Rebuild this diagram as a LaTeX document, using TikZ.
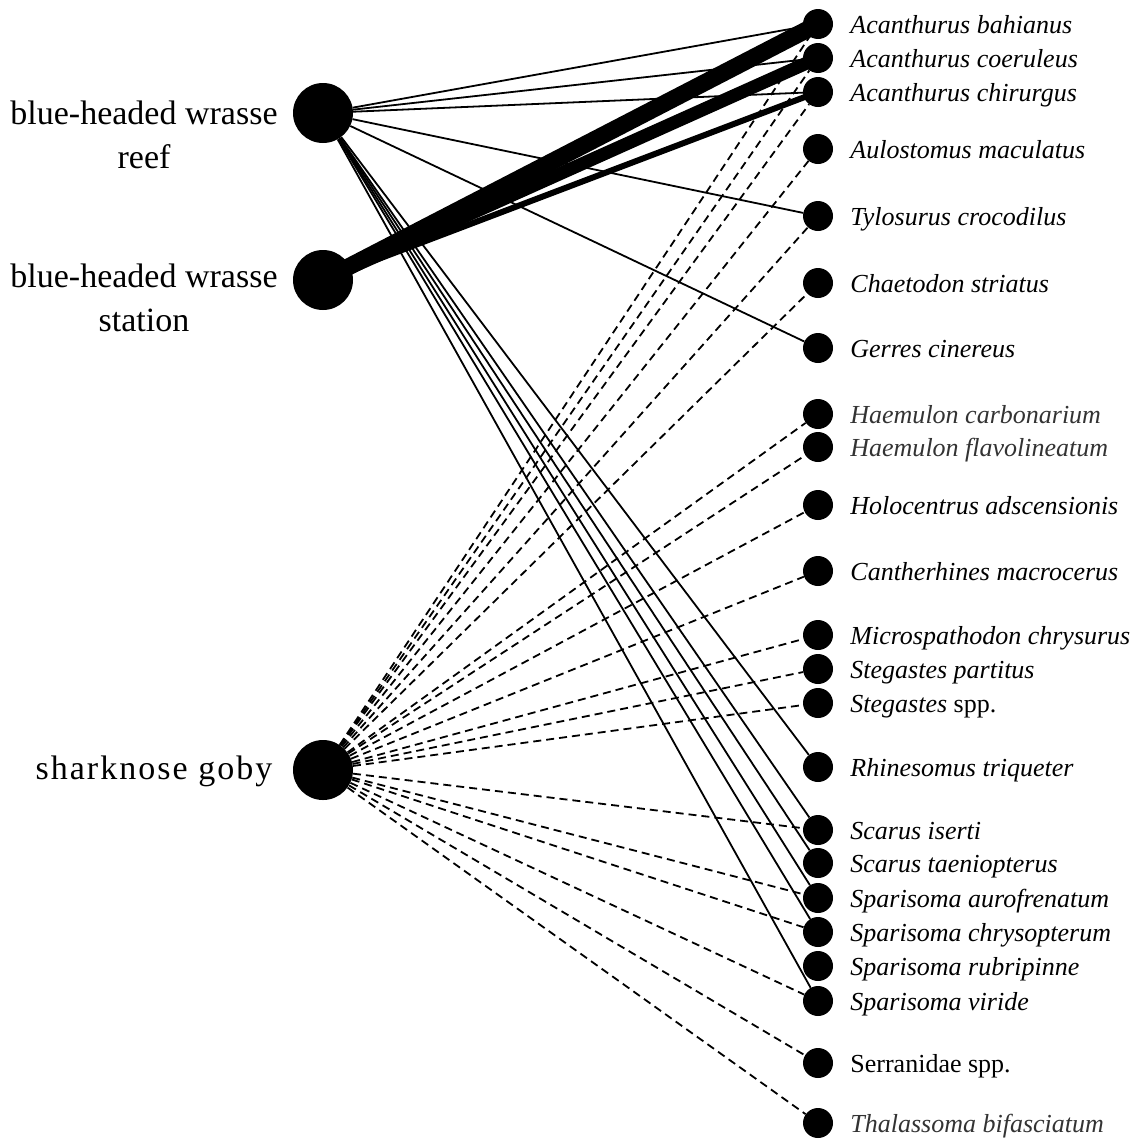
\documentclass[tikz,border=0pt]{standalone}
\usepackage{fontspec}
\setmainfont{Liberation Serif}
\usetikzlibrary{positioning}

\begin{document}
\begin{tikzpicture}[x=1pt,y=-1pt,
    bignode/.style={circle,fill,inner sep=0pt,minimum size=60pt},
    spnode/.style={circle,fill,inner sep=0pt,minimum size=30pt},
    splabel/.style={inner sep=0pt,text height=18pt,text depth=0pt,font=\fontsize{26}{28}\selectfont\itshape},
    grouplabel/.style={align=center,inner sep=0pt,font=\fontsize{34}{44}\selectfont},
    reefedge/.style={line width=1.8pt},
    gobyedge/.style={line width=1.8pt,dash pattern=on 8pt off 5pt}]
    \useasboundingbox (0,0) rectangle (1140,1138);
    \clip (0,0) rectangle (1140,1138);

    % groups
    \node[bignode] (reef) at (323,113) {};
    \node[bignode] (station) at (323,280) {};
    \node[bignode] (goby) at (323,770) {};
    \node[grouplabel] (reef-l) at (144,135) {blue-headed wrasse\\reef};
    \node[grouplabel] (station-l) at (144,298) {blue-headed wrasse\\station};
    \node[grouplabel,anchor=base,font=\fontsize{34}{44}\selectfont\addfontfeature{LetterSpace=6}] (goby-l) at (154,779) {sharknose goby};

    % species
    \node[spnode] (abah) at (818,24) {};
    \node[spnode] (acoe) at (818,58) {};
    \node[spnode] (achi) at (818,92) {};
    \node[spnode] (aulo) at (818,149) {};
    \node[spnode] (tylo) at (818,216) {};
    \node[spnode] (chae) at (818,283) {};
    \node[spnode] (gerr) at (818,348) {};
    \node[spnode] (hcar) at (818,414) {};
    \node[spnode] (hfla) at (818,447) {};
    \node[spnode] (holo) at (818,505) {};
    \node[spnode] (cant) at (818,571) {};
    \node[spnode] (micr) at (818,635) {};
    \node[spnode] (spar) at (818,669) {};
    \node[spnode] (sspp) at (818,703) {};
    \node[spnode] (rhin) at (818,767) {};
    \node[spnode] (sise) at (818,830) {};
    \node[spnode] (stae) at (818,863) {};
    \node[spnode] (saur) at (818,898) {};
    \node[spnode] (schr) at (818,932) {};
    \node[spnode] (srub) at (818,966) {};
    \node[spnode] (svir) at (818,1001) {};
    \node[spnode] (serr) at (818,1063) {};
    \node[spnode] (thal) at (818,1123) {};

    \node[splabel,right=17pt of abah] (abah-l) {Acanthurus bahianus};
    \node[splabel,right=17pt of acoe] (acoe-l) {Acanthurus coeruleus};
    \node[splabel,right=17pt of achi] (achi-l) {Acanthurus chirurgus};
    \node[splabel,right=17pt of aulo] (aulo-l) {Aulostomus maculatus};
    \node[splabel,right=17pt of tylo] (tylo-l) {Tylosurus crocodilus};
    \node[splabel,right=17pt of chae] (chae-l) {Chaetodon striatus};
    \node[splabel,right=17pt of gerr] (gerr-l) {Gerres cinereus};
    \node[splabel,right=17pt of hcar,black!80] (hcar-l) {Haemulon carbonarium};
    \node[splabel,right=17pt of hfla,black!80] (hfla-l) {Haemulon flavolineatum};
    \node[splabel,right=17pt of holo] (holo-l) {Holocentrus adscensionis};
    \node[splabel,right=17pt of cant] (cant-l) {Cantherhines macrocerus};
    \node[splabel,right=17pt of micr] (micr-l) {Microspathodon chrysurus};
    \node[splabel,right=17pt of spar] (spar-l) {Stegastes partitus};
    \node[splabel,right=17pt of sspp] (sspp-l) {Stegastes {\upshape spp.}};
    \node[splabel,right=17pt of rhin] (rhin-l) {Rhinesomus triqueter};
    \node[splabel,right=17pt of sise] (sise-l) {Scarus iserti};
    \node[splabel,right=17pt of stae] (stae-l) {Scarus taeniopterus};
    \node[splabel,right=17pt of saur] (saur-l) {Sparisoma aurofrenatum};
    \node[splabel,right=17pt of schr] (schr-l) {Sparisoma chrysopterum};
    \node[splabel,right=17pt of srub] (srub-l) {Sparisoma rubripinne};
    \node[splabel,right=17pt of svir] (svir-l) {Sparisoma viride};
    \node[splabel,right=17pt of serr] (serr-l) {\upshape Serranidae spp.};
    \node[splabel,right=17pt of thal,black!80] (thal-l) {Thalassoma bifasciatum};

    % sharknose goby
    \draw[gobyedge] (goby) -- (abah);
    \draw[gobyedge] (goby) -- (acoe);
    \draw[gobyedge] (goby) -- (achi);
    \draw[gobyedge] (goby) -- (aulo);
    \draw[gobyedge] (goby) -- (tylo);
    \draw[gobyedge] (goby) -- (chae);
    \draw[gobyedge] (goby) -- (hcar);
    \draw[gobyedge] (goby) -- (hfla);
    \draw[gobyedge] (goby) -- (holo);
    \draw[gobyedge] (goby) -- (cant);
    \draw[gobyedge] (goby) -- (micr);
    \draw[gobyedge] (goby) -- (spar);
    \draw[gobyedge] (goby) -- (sspp);
    \draw[gobyedge] (goby) -- (sise);
    \draw[gobyedge] (goby) -- (saur);
    \draw[gobyedge] (goby) -- (schr);
    \draw[gobyedge] (goby) -- (svir);
    \draw[gobyedge] (goby) -- (serr);
    \draw[gobyedge] (goby) -- (thal);

    % wrasse reef
    \draw[reefedge] (reef) -- (abah);
    \draw[reefedge] (reef) -- (acoe);
    \draw[reefedge] (reef) -- (achi);
    \draw[reefedge] (reef) -- (tylo);
    \draw[reefedge] (reef) -- (gerr);
    \draw[reefedge] (reef) -- (rhin);
    \draw[reefedge] (reef) -- (sise);
    \draw[reefedge] (reef) -- (stae);
    \draw[reefedge] (reef) -- (saur);
    \draw[reefedge] (reef) -- (schr);
    \draw[reefedge] (reef) -- (svir);

    % wrasse station
    \draw[line width=17pt] (station.center) -- (abah.center);
    \draw[line width=13pt] (station.center) -- (acoe.center);
    \draw[line width=6pt] (station.center) -- (achi.center);
\end{tikzpicture}
\end{document}
